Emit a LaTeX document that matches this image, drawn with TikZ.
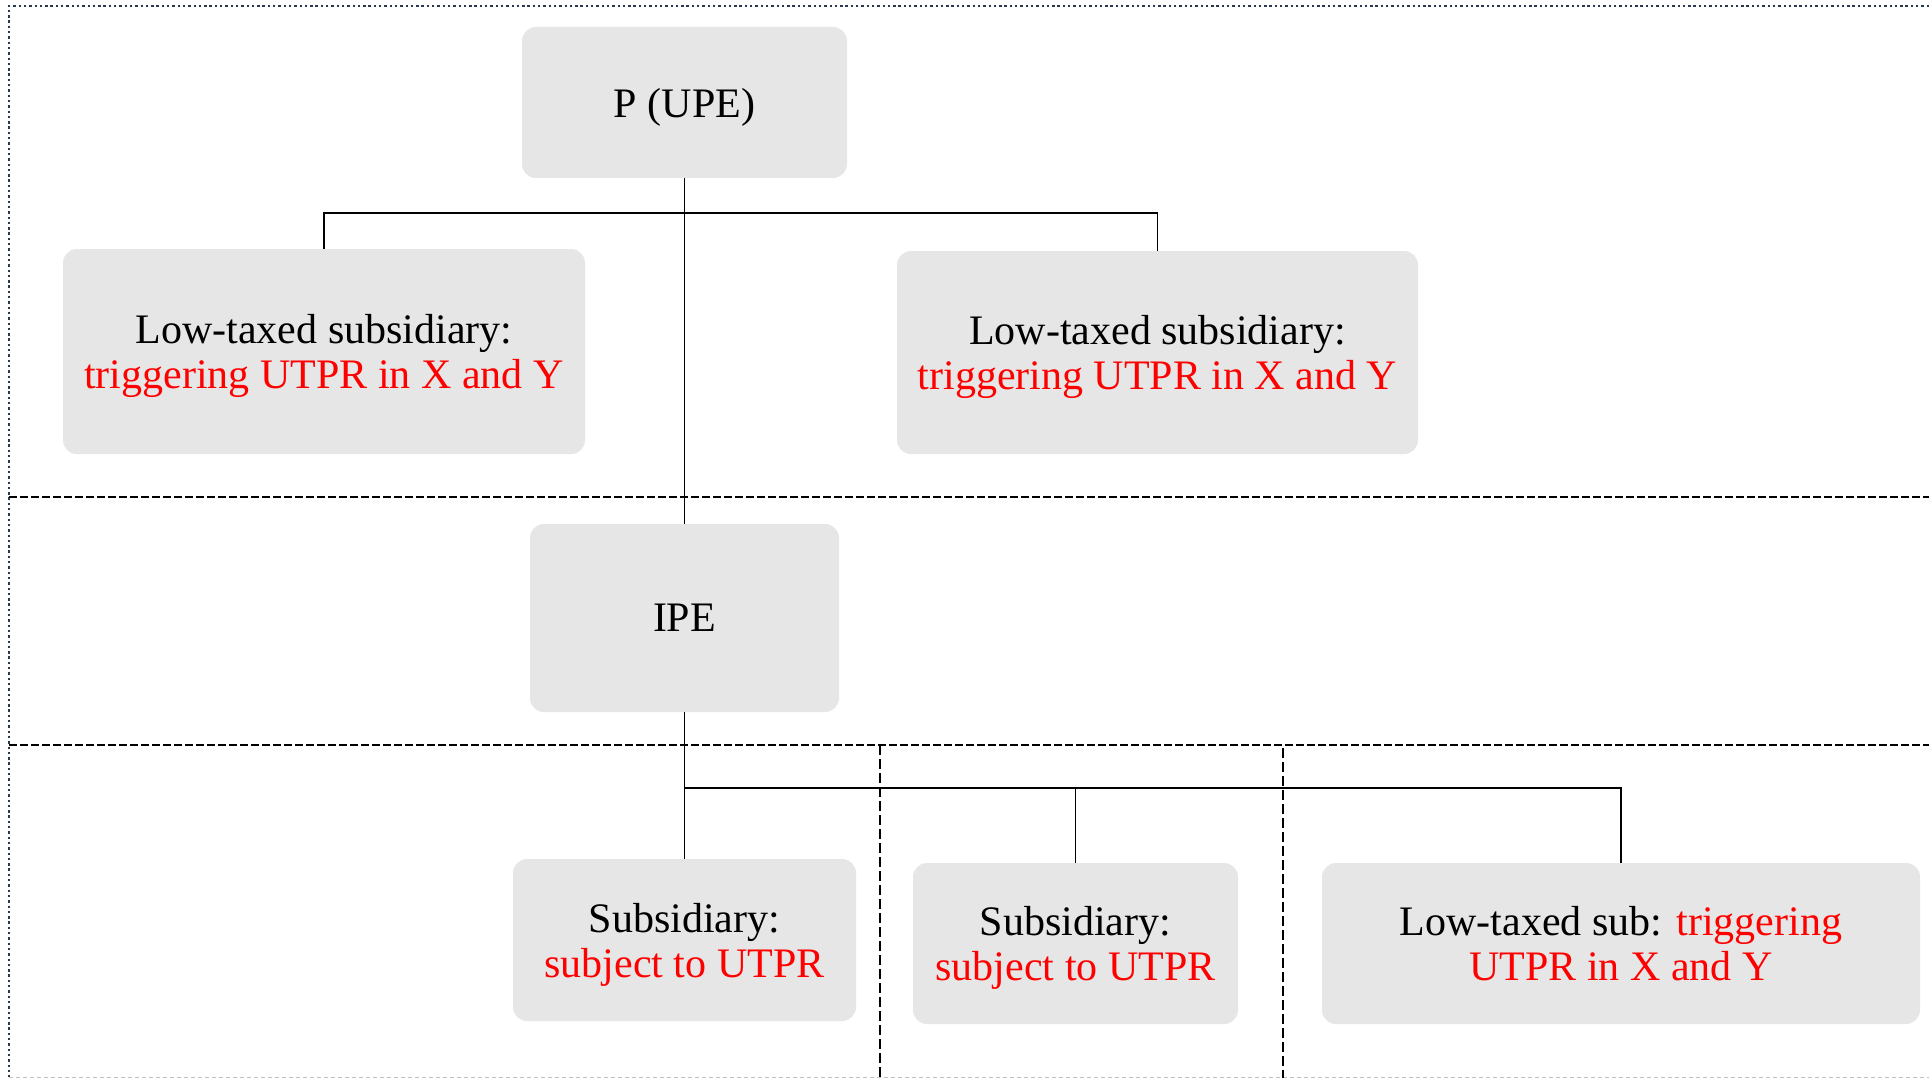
\documentclass[tikz,border=0pt]{standalone}
\usepackage{fontspec}
\setmainfont{Liberation Serif}
\usetikzlibrary{positioning}
\definecolor{boxgray}{RGB}{230,230,230}
\definecolor{framecol}{RGB}{40,58,82}
\definecolor{utprred}{RGB}{255,0,0}
\tikzset{
  entity/.style={fill=boxgray, rounded corners=14pt, align=center, inner sep=0pt,
    text depth=0pt, font=\fontsize{42}{45}\selectfont},
  link/.style={line width=1.3pt, draw=black},
  tierline/.style={line width=2pt, dash pattern=on 8pt off 3pt},
  splitline/.style={line width=1.5pt, dash pattern=on 10pt off 4pt},
}
\newcommand{\hl}[1]{\textcolor{utprred}{#1}}
\begin{document}
\begin{tikzpicture}[x=1pt,y=-1pt]
\useasboundingbox (0,0) rectangle (1929,1078);
\fill[white] (0,0) rectangle (1929,1078);

% outer frame
\draw[framecol, line width=2.4pt, dash pattern=on 2.4pt off 2.9pt] (1929,6) -- (9,6) -- (9,1077);
\draw[gray!50, line width=1pt, dash pattern=on 4pt off 3pt] (9,1077) -- (1929,1077);

% tier separators
\draw[tierline] (9,497) -- (1929,497);
\draw[tierline] (9,745) -- (1929,745);
\draw[splitline] (880,745) -- (880,1078);
\draw[splitline] (1283,748) -- (1283,1078);

% entities
\node[entity, minimum width=325pt, minimum height=151pt] (p) at (684.5,102.5) {P (UPE)};
\node[entity, minimum width=522pt, minimum height=205pt] (l1) at (324,351.5)
  {Low-taxed subsidiary:\\ \hl{triggering UTPR in X and Y}};
\node[entity, minimum width=521pt, minimum height=203pt] (l2) at (1157.5,352.5)
  {Low-taxed subsidiary:\\ \hl{triggering UTPR in X and Y}};
\node[entity, minimum width=309pt, minimum height=188pt] (ipe) at (684.5,618) {IPE};
\node[entity, minimum width=343pt, minimum height=162pt] (s1) at (684.5,940)
  {Subsidiary:\\ \hl{subject to UTPR}};
\node[entity, minimum width=325pt, minimum height=161pt] (s2) at (1075.5,943.5)
  {Subsidiary:\\ \hl{subject to UTPR}};
\node[entity, minimum width=598pt, minimum height=161pt] (s3) at (1621,943.5)
  {Low-taxed sub: \hl{triggering}\\ \hl{UTPR in X and Y}};

% ownership links
\coordinate (top) at (684.5,213);
\coordinate (bot) at (684.5,788);
\draw[link] (p.south) -- (ipe.north);
\draw[link] (l1.north) |- (top) -| (l2.north);
\draw[link] (ipe.south) -- (s1.north);
\draw[link] (bot) -| (s2.north);
\draw[link] (bot) -| (s3.north);
\end{tikzpicture}
\end{document}
